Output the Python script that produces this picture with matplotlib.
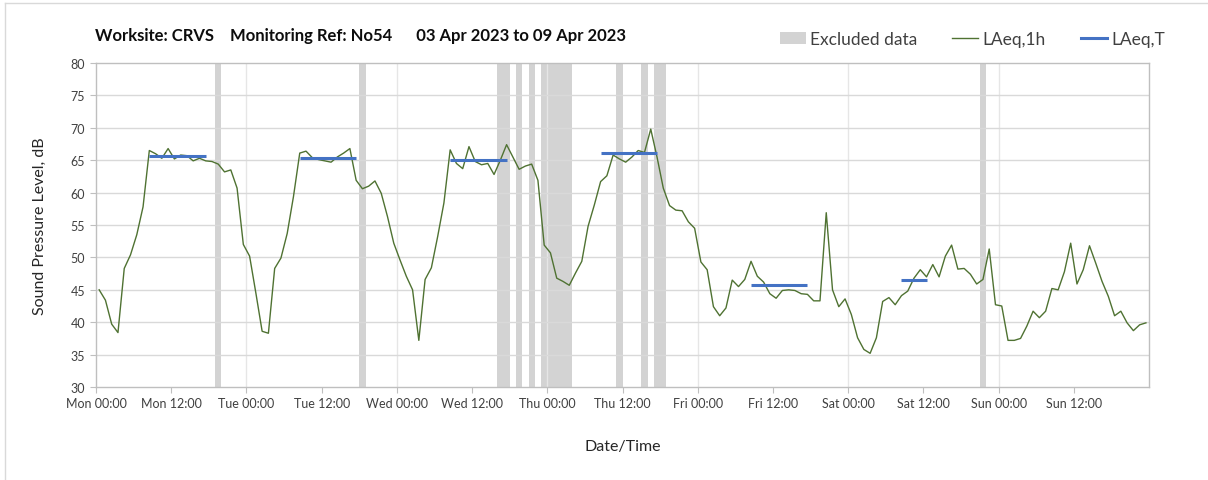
import matplotlib
matplotlib.use("Agg")
import matplotlib.pyplot as plt
from matplotlib.lines import Line2D
from matplotlib.patches import Patch
import numpy as np

plt.rcParams['font.family'] = ['Lato', 'DejaVu Sans']

days = ["Mon", "Tue", "Wed", "Thu", "Fri", "Sat", "Sun"]

# Hourly LAeq,1h values (dB), one list per day, hours 00..23
mon = [45.0, 43.4, 39.7, 38.4, 48.3, 50.4, 53.5, 57.8, 66.5, 66.0, 65.3, 66.8,
       65.2, 65.8, 65.7, 64.9, 65.3, 64.9, 64.8, 64.4, 63.2, 63.5, 60.7, 52.0]
tue = [50.2, 44.5, 38.6, 38.3, 48.3, 49.9, 53.7, 59.4, 66.1, 66.4, 65.4, 65.1,
       64.9, 64.7, 65.5, 66.1, 66.8, 61.9, 60.6, 61.0, 61.8, 59.9, 56.3, 52.2]
wed = [49.6, 47.1, 45.0, 37.2, 46.6, 48.4, 53.2, 58.4, 66.6, 64.5, 63.7, 67.1,
       64.8, 64.3, 64.5, 62.8, 65.0, 67.4, 65.5, 63.6, 64.1, 64.4, 61.9, 51.9]
thu = [50.7, 46.8, 46.3, 45.7, 47.6, 49.4, 54.8, 58.1, 61.7, 62.6, 65.8, 65.2,
       64.7, 65.5, 66.5, 66.2, 69.8, 65.5, 60.7, 58.0, 57.3, 57.2, 55.5, 54.5]
fri = [49.3, 48.1, 42.4, 41.0, 42.2, 46.5, 45.5, 46.6, 49.4, 47.1, 46.2, 44.4,
       43.7, 44.9, 45.0, 44.9, 44.4, 44.3, 43.3, 43.3, 56.9, 45.0, 42.4, 43.6]
sat = [41.2, 37.6, 35.8, 35.2, 37.6, 43.2, 43.8, 42.7, 44.1, 44.8, 46.8, 48.1,
       47.0, 48.9, 47.0, 50.2, 51.9, 48.2, 48.3, 47.4, 45.9, 46.6, 51.3, 42.7]
sun = [42.5, 37.2, 37.2, 37.5, 39.4, 41.7, 40.7, 41.7, 45.2, 45.0, 47.8, 52.2,
       45.9, 48.1, 51.8, 49.1, 46.3, 44.0, 41.0, 41.7, 39.9, 38.7, 39.6, 39.9]

# LAeq,T per day: (day index, start hour, end hour, level)
laeqt_day = [0, 1, 2, 3, 4, 5]
laeqt_start = [8, 8, 8, 8, 8, 8]
laeqt_end = [17, 17, 17, 17, 17, 12]
laeqt_level = [65.6, 65.4, 65.0, 66.1, 45.7, 46.5]

# Excluded data periods: (day index, start hour, end hour)
excl_day = [0, 1, 2, 2, 2, 2, 3, 3, 3, 5]
excl_start = [19, 18, 16, 19, 21, 23, 11, 15, 17, 21]
excl_end = [20, 19, 18, 20, 22, 28, 12, 16, 19, 22]

tick_labels = [f"{d} {h}" for d in days for h in ("00:00", "12:00")]

level = np.concatenate([mon, tue, wed, thu, fri, sat, sun])
hours = np.arange(len(level)) + 0.5

fig = plt.figure(figsize=(12.08, 4.81), dpi=100)
ax = fig.add_axes([0.0795, 0.1933, 0.8717, 0.6736])

grid_c = "#d9d9d9"
axis_c = "#bfbfbf"
text_c = "#404040"

for d, s, e in zip(excl_day, excl_start, excl_end):
    ax.axvspan(d * 24 + s, d * 24 + e, color="#d3d3d3", lw=0, zorder=1)

for d in range(1, 7):
    ax.axvline(d * 24, color="#e6e6e6", lw=1.0, zorder=1.5)
for v in range(35, 80, 5):
    ax.axhline(v, color=grid_c, lw=1.0, zorder=1.5)

ax.plot(hours, level, color="#4f7232", lw=1.0, zorder=3)
for d, s, e, lv in zip(laeqt_day, laeqt_start, laeqt_end, laeqt_level):
    ax.plot([d * 24 + s + 0.5, d * 24 + e + 0.5], [lv, lv], color="#4472c4",
            lw=2.2, zorder=4, solid_capstyle="butt")

ax.set_xlim(0, 168)
ax.set_ylim(30, 80)
ax.set_yticks(range(30, 81, 5))
ax.set_xticks(np.arange(0, 168, 12))
ax.set_xticklabels(tick_labels)
ax.tick_params(axis="x", length=4, color=axis_c, labelsize=9, labelcolor=text_c, pad=3)
ax.tick_params(axis="y", length=4, color=axis_c, labelsize=9, labelcolor=text_c, pad=4)
for sp in ax.spines.values():
    sp.set_color(axis_c)
    sp.set_linewidth(1.0)

ax.set_ylabel("Sound Pressure Level, dB", fontsize=11.5, color="#262626", labelpad=17)
ax.set_xlabel("Date/Time", fontsize=11.5, color="#262626", labelpad=22)

fig.text(0.0787, 0.925, "Worksite: CRVS    Monitoring Ref: No54      03 Apr 2023 to 09 Apr 2023",
         fontsize=12, fontweight="bold", color="#0d0d0d", va="center", ha="left")

handles = [Patch(facecolor="#d3d3d3", edgecolor="none"),
           Line2D([], [], color="#4f7232", lw=1.0),
           Line2D([], [], color="#4472c4", lw=2.2)]
leg = fig.legend(handles, ["Excluded data", "LAeq,1h", "LAeq,T"], loc="center",
                 bbox_to_anchor=(0.805, 0.917), ncol=3, frameon=False, fontsize=12.5,
                 handlelength=1.5, handletextpad=0.25, columnspacing=2.0,
                 handleheight=0.7)
for t in leg.get_texts():
    t.set_color("#404040")

# figure frame (left and top edges visible)
fig.add_artist(Line2D([0.0045, 0.0045], [0, 0.992], color="#d9d9d9", lw=1.0, transform=fig.transFigure))
fig.add_artist(Line2D([0.0045, 1.0], [0.992, 0.992], color="#d9d9d9", lw=1.0, transform=fig.transFigure))

fig.savefig("out.png", dpi=100)
